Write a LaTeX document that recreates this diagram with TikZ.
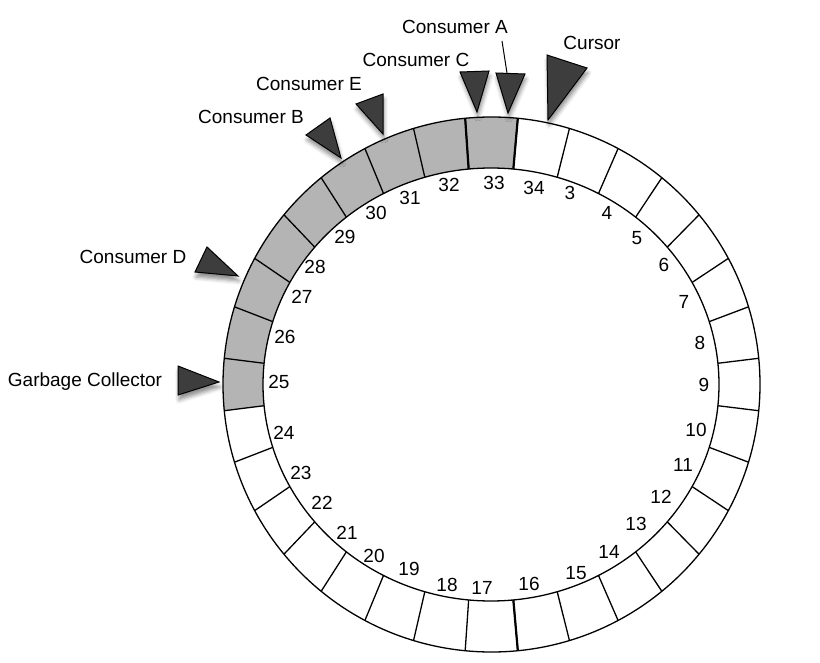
\documentclass[tikz,border=0pt]{standalone}
\usepackage{fontspec}
\setmainfont{Liberation Sans}
\usetikzlibrary{shadows.blur}
\definecolor{ptr}{HTML}{3D3D3D}
\definecolor{used}{HTML}{B4B4B4}
\begin{document}
\begin{tikzpicture}[x=1pt,y=1pt,
  ringline/.style={line width=1.3pt},
  heavy/.style={line width=2.2pt},
  pointer/.style={draw=black, line width=1pt, fill=ptr, line join=miter,
    blur shadow={shadow xshift=1pt, shadow yshift=-5pt, shadow blur radius=4pt, shadow opacity=45}},
  lbl/.style={inner sep=0pt, font=\fontsize{19}{23}\selectfont},
  num/.style={inner sep=0pt, font=\fontsize{19}{23}\selectfont}]
\useasboundingbox (0,0) rectangle (820,-663);
% used (gray) slots 25..33
\fill[used] ({491.5+268.5*cos(84.375)},{-384.5+267.5*sin(84.375)})
  arc[start angle=84.375,end angle=185.625,x radius=268.5,y radius=267.5]
  -- ({491+228*cos(185.625)},{-384.5+216.5*sin(185.625)})
  arc[start angle=185.625,end angle=84.375,x radius=228,y radius=216.5] -- cycle;
% ring
\draw[ringline] (491.5,-384.5) ellipse[x radius=268.5,y radius=267.5];
\draw[ringline] (491,-384.5) ellipse[x radius=228,y radius=216.5];
\foreach \k in {0,...,31}{
  \pgfmathsetmacro\a{5.625+11.25*\k}
  \draw[ringline] ({491+228*cos(\a)},{-384.5+216.5*sin(\a)}) -- ({491.5+268.5*cos(\a)},{-384.5+267.5*sin(\a)});
}
\foreach \a in {84.375,95.625,275.625}{
  \draw[heavy] ({491+228*cos(\a)},{-384.5+216.5*sin(\a)}) -- ({491.5+268.5*cos(\a)},{-384.5+267.5*sin(\a)});
}
% slot numbers
\foreach \n/\x/\y in {3/570/193,4/607/213,5/637/238,6/664/265,7/684/302,8/700/343,9/704/385,
  10/696/430,11/683/465,12/661/497,13/636/524,14/609/552,15/576/573,16/529/584,17/482/588,
  18/447/585,19/409/569,20/374/556,21/347/533,22/322/503,23/301/473,24/284/433,25/279/382,
  26/285/337,27/302/297,28/315/267,29/345/237,30/376/213,31/410/198,32/449/185,33/494/183,34/534/188}{
  \node[num] (n\n) at (\x,-\y) {\n};
}
% pointers
\draw[pointer] (547,-55) -- (587,-68) -- (548,-120) -- cycle;
\draw[pointer] (496,-73) -- (525,-74) -- (508,-113) -- cycle;
\draw[pointer] (460,-72) -- (489,-71) -- (477,-112) -- cycle;
\draw[pointer] (356,-104) -- (383,-94) -- (383,-134) -- cycle;
\draw[pointer] (306,-135) -- (330,-118) -- (341,-158) -- cycle;
\draw[pointer] (195,-272) -- (207,-247) -- (238,-276) -- cycle;
\draw[pointer] (178,-366) -- (178,-395) -- (219,-382) -- cycle;
% labels
\node[lbl] (cursor) at (592,-43) {Cursor};
\node[lbl] (consA) at (455,-27) {Consumer A};
\node[lbl] (consC) at (416,-60) {Consumer C};
\node[lbl] (consE) at (309,-84) {Consumer E};
\node[lbl] (consB) at (251,-117) {Consumer B};
\node[lbl] (consD) at (133,-257) {Consumer D};
\node[lbl] (gc) at (85,-382) {Garbage Collector};
\coordinate (la1) at (502,-41);
\coordinate (la2) at (507,-73);
\draw[line width=1pt] (la1) -- (la2);
\end{tikzpicture}
\end{document}
